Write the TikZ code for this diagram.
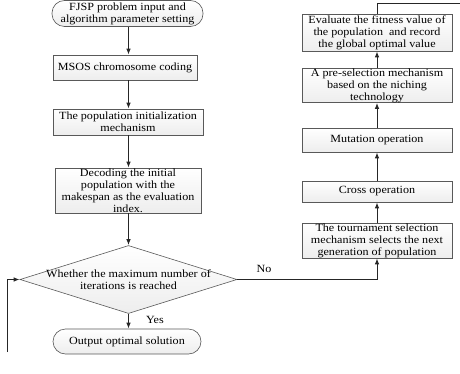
\documentclass[tikz,border=0pt]{standalone}
\usepackage{fontspec}
\setmainfont{Liberation Serif}[FakeStretch=1.1]
\usetikzlibrary{arrows.meta,shapes.geometric}
\tikzset{
  box/.style={draw=gray!70!black, line width=0.6pt, top color=white, bottom color=gray!14,
    rectangle, inner sep=0pt, align=center, font=\fontsize{11}{12}\selectfont},
  term/.style={box, rounded corners=12.5pt},
  lbl/.style={inner sep=0pt, font=\fontsize{11}{12}\selectfont, align=center},
  arr/.style={draw=black!85, line width=1pt, -{Latex[length=6pt,width=4.5pt]}},
  ln/.style={draw=black!85, line width=1pt},
}
\begin{document}
\begin{tikzpicture}[x=1pt,y=-1pt]
\useasboundingbox (0,0) rectangle (460,374);
\node[term, minimum width=151pt, minimum height=26pt] (start) at (127.5,13.5) {FJSP problem input and\\algorithm parameter setting};
\node[box, minimum width=144pt, minimum height=25pt] (msos) at (125,67.5) {MSOS chromosome coding};
\node[box, minimum width=150pt, minimum height=26pt] (init) at (128,122) {The population initialization\\mechanism};
\node[box, minimum width=146pt, minimum height=45pt] (dec) at (128,190.5) {Decoding the initial\\population with the\\makespan as the evaluation\\index.};
\node[diamond, draw=gray!70!black, line width=0.6pt, top color=white, bottom color=gray!14,
  inner sep=0pt, aspect=3.19, minimum width=217pt, minimum height=68pt] (dia) at (128.5,279.5) {};
\node[lbl] (diat) at (128.5,280) {Whether the maximum number of\\iterations is reached};
\node[term, minimum width=148pt, minimum height=25pt] (out) at (127,341.5) {Output optimal solution};
\node[box, minimum width=150pt, minimum height=35pt] (tour) at (377,240.5) {The tournament selection\\mechanism selects the next\\generation of population};
\node[box, minimum width=150pt, minimum height=21pt] (cross) at (377,191.5) {Cross operation};
\node[box, minimum width=150pt, minimum height=24pt] (mut) at (377,140) {Mutation operation};
\node[box, minimum width=150pt, minimum height=29pt] (pre) at (377,85.5) {A pre-selection mechanism\\based on the niching\\technology};
\node[box, minimum width=150pt, minimum height=37pt] (eval) at (377,32.5) {Evaluate the fitness value of\\the population\ \ and record\\the global optimal value};
\node[lbl] (yes) at (155,320) {Yes};
\node[lbl] (no) at (264,269) {No};
\coordinate (c1) at (377,279.5);
\coordinate (c2) at (377,4);
\coordinate (c3) at (460,4);
\coordinate (c4) at (7,352);
\coordinate (c5) at (7,279.5);
\draw[arr] (start.south -| dia) -- (msos.north -| dia);
\draw[arr] (msos.south -| dia) -- (init.north -| dia);
\draw[arr] (init.south -| dia) -- (dec.north -| dia);
\draw[arr] (dec.south -| dia) -- (dia.north);
\draw[arr] (dia.south) -- (out.north -| dia);
\draw[arr] (dia.east) -- (c1) -- (tour.south);
\draw[arr] (tour) -- (cross);
\draw[arr] (cross) -- (mut);
\draw[arr] (mut) -- (pre);
\draw[arr] (pre) -- (eval);
\draw[ln] (eval.north) -- (c2) -- (c3);
\draw[arr] (c4) -- (c5) -- (dia.west);
\end{tikzpicture}
\end{document}
